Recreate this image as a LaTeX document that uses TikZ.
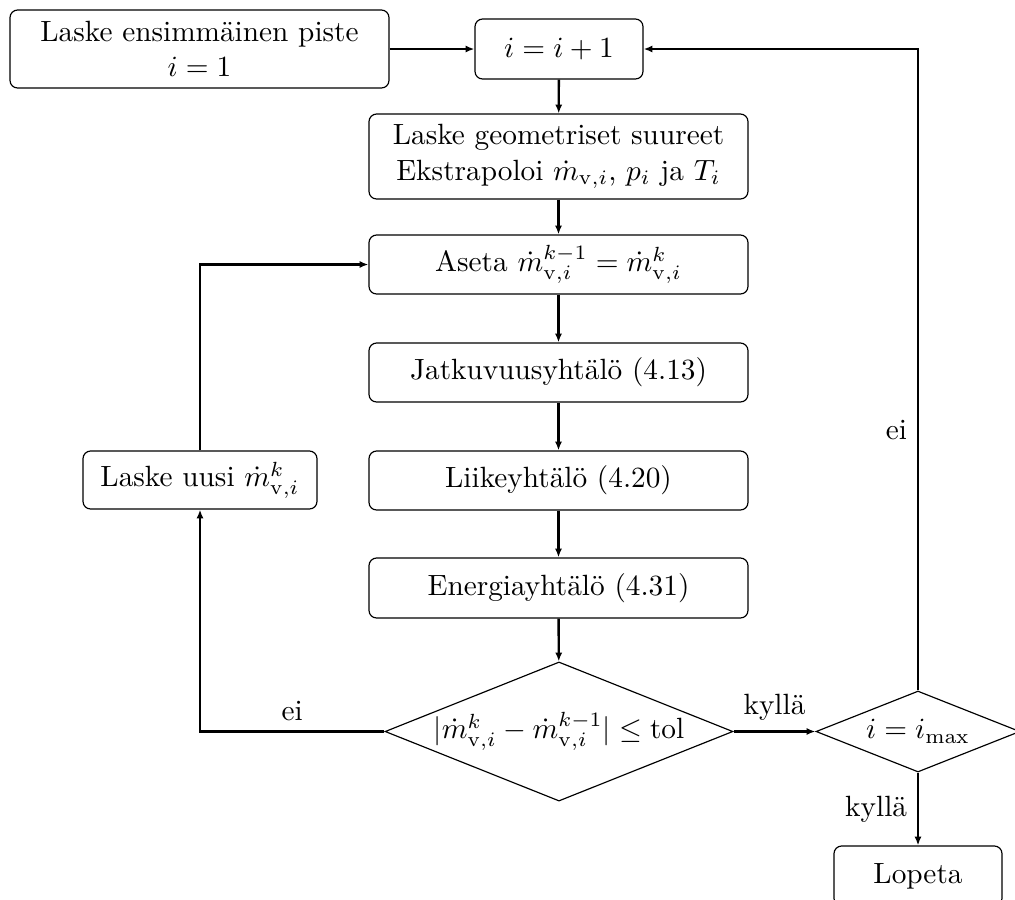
\documentclass[tikz,border=0pt]{standalone}
\usetikzlibrary{shapes.geometric,arrows.meta}
\def\pxu{0.3413pt}
\begin{document}
\begin{tikzpicture}[x=0.3413pt,y=-0.3413pt,
  boxnode/.style={draw,thin,rounded corners=2.6pt,align=center,inner sep=3pt},
  wide/.style={boxnode,minimum width=379*\pxu,minimum height=59*\pxu},
  decision/.style={draw,thin,diamond,aspect=2.5,inner sep=0pt},
  flow/.style={thick,-{Latex[length=3pt,width=2.4pt]}},
  plain/.style={thick}]
\useasboundingbox (0,0) rectangle (1015,899);
\node[boxnode,minimum width=379*\pxu,minimum height=78*\pxu] (A) at (199.5,49)
  {Laske ensimmäinen piste\\ $i=1$};
\node[boxnode,minimum width=168*\pxu,minimum height=60*\pxu] (B) at (559,49) {$i=i+1$};
\node[wide,minimum height=85*\pxu] (C) at (558.5,156.5)
  {Laske geometriset suureet\\ Ekstrapoloi $\dot m_{\mathrm{v},i}$, $p_i$ ja $T_i$};
\node[wide] (D) at (558.5,264.5)
  {Aseta $\dot m_{\mathrm{v},i}^{k-1}=\dot m_{\mathrm{v},i}^{k}$};
\node[wide] (E) at (558.5,372.5) {Jatkuvuusyhtälö (4.13)};
\node[wide] (F) at (558.5,480.5) {Liikeyhtälö (4.20)};
\node[wide,minimum height=60*\pxu] (G) at (558.5,588) {Energiayhtälö (4.31)};
\node[decision,minimum width=346*\pxu,minimum height=137*\pxu] (d1) at (559,731.5)
  {$|\dot m_{\mathrm{v},i}^{k}-\dot m_{\mathrm{v},i}^{k-1}|\le\mathrm{tol}$};
\node[decision,minimum width=204*\pxu,minimum height=81*\pxu] (d2) at (918,731.5)
  {$i=i_{\max}$};
\node[boxnode,minimum width=234*\pxu,minimum height=58*\pxu] (L) at (200,480)
  {Laske uusi $\dot m_{\mathrm{v},i}^{k}$};
\node[boxnode,minimum width=168*\pxu,minimum height=60*\pxu] (end) at (918,876) {Lopeta};

\draw[flow] (A) -- (B);
\draw[flow] (B) -- (C);
\draw[flow] (C) -- (D);
\draw[flow] (D) -- (E);
\draw[flow] (E) -- (F);
\draw[flow] (F) -- (G);
\draw[flow] (G) -- (d1);
\draw[flow] (d1.east) -- node[above] {kyllä} (d2.west);
\draw[flow] (d1.west) -| node[pos=0.25,above] {ei} (L.south);
\draw[flow] (L.north) |- (D.west);
\draw[flow] (d2.north) |- node[pos=0.203,left] {ei} (B.east);
\draw[flow] (d2.south) -- node[left] {kyllä} (end.north);
\end{tikzpicture}
\end{document}
